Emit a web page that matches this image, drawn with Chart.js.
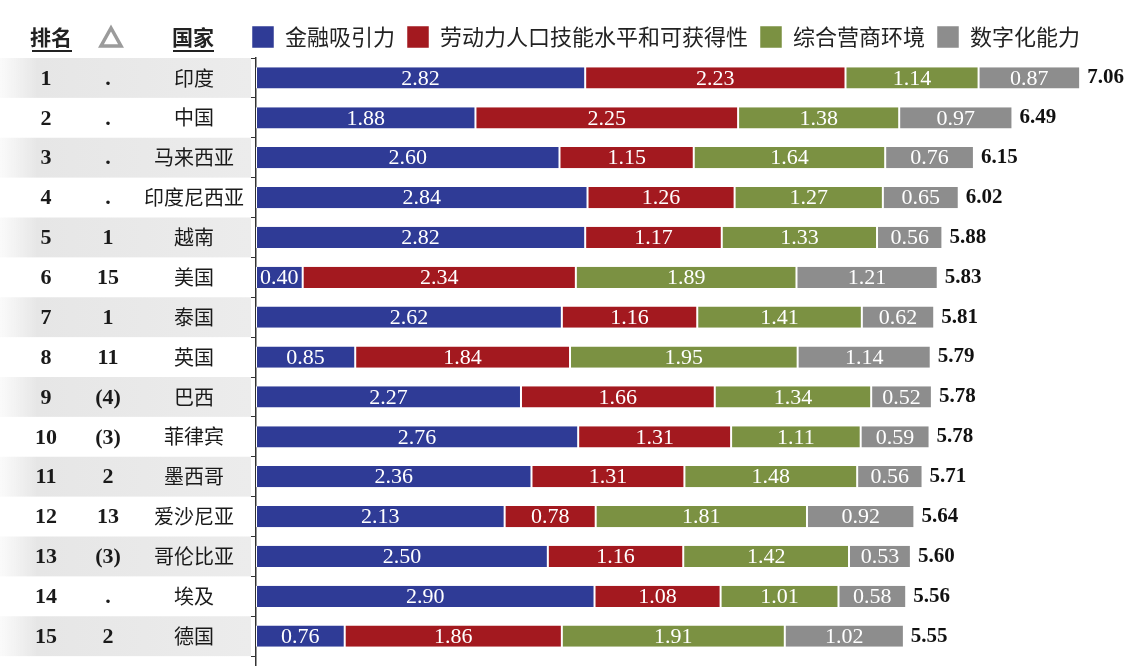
<!DOCTYPE html>
<html>
<head>
<meta charset="utf-8">
<script src="https://cdn.jsdelivr.net/npm/chart.js@4"></script>
<style>
  html, body { margin: 0; padding: 0; overflow: hidden; background: #fff; }
  #wrap { width: 1138px; height: 700px; }
</style>
</head>
<body>
<div id="wrap"><canvas id="rankChart"></canvas></div>
<script>
// data
const countries = ['印度', '中国', '马来西亚', '印度尼西亚', '越南', '美国', '泰国', '英国', '巴西', '菲律宾', '墨西哥', '爱沙尼亚', '哥伦比亚', '埃及', '德国'];
const ranks = ['1', '2', '3', '4', '5', '6', '7', '8', '9', '10', '11', '12', '13', '14', '15'];
const deltas = ['.', '.', '.', '.', '1', '15', '1', '11', '(4)', '(3)', '2', '13', '(3)', '.', '2'];
const seriesNames = ['金融吸引力', '劳动力人口技能水平和可获得性', '综合营商环境', '数字化能力'];
const finance  = [2.82, 1.88, 2.60, 2.84, 2.82, 0.40, 2.62, 0.85, 2.27, 2.76, 2.36, 2.13, 2.50, 2.90, 0.76];
const labour   = [2.23, 2.25, 1.15, 1.26, 1.17, 2.34, 1.16, 1.84, 1.66, 1.31, 1.31, 0.78, 1.16, 1.08, 1.86];
const business = [1.14, 1.38, 1.64, 1.27, 1.33, 1.89, 1.41, 1.95, 1.34, 1.11, 1.48, 1.81, 1.42, 1.01, 1.91];
const digital  = [0.87, 0.97, 0.76, 0.65, 0.56, 1.21, 0.62, 1.14, 0.52, 0.59, 0.56, 0.92, 0.53, 0.58, 1.02];
const totals   = [7.06, 6.49, 6.15, 6.02, 5.88, 5.83, 5.81, 5.79, 5.78, 5.78, 5.71, 5.64, 5.60, 5.56, 5.55];

const colors = ['#2f3b96', '#a3191f', '#7b9142', '#8d8d8d'];
const serif = '"Liberation Serif", "DejaVu Serif", serif';
const cjk = '"Noto Sans CJK SC", "Noto Sans", sans-serif';

// the picture is cut off below row 15, so leave one empty slot
const labels = countries.concat(['']);

// left table, row shading and value labels
const tablePlugin = {
  id: 'tablePlugin',
  beforeDatasetsDraw(chart) {
    const { ctx } = chart;
    const y = chart.scales.y;
    const step = y.getPixelForValue(1) - y.getPixelForValue(0);
    ctx.save();
    countries.forEach((c, i) => {
      if (i % 2 !== 0) return;
      const cy = y.getPixelForValue(i);
      const g = ctx.createLinearGradient(0, 0, 250, 0);
      g.addColorStop(0, 'rgba(232,232,232,0.2)');
      g.addColorStop(0.15, '#e6e6e6');
      g.addColorStop(1, '#ececec');
      ctx.fillStyle = g;
      ctx.fillRect(0, cy - step / 2, 251, step);
    });
    ctx.restore();
  },
  afterDraw(chart) {
    const { ctx } = chart;
    const y = chart.scales.y;
    ctx.save();
    ctx.textBaseline = 'middle';
    ctx.textAlign = 'center';

    // header
    ctx.fillStyle = '#222';
    ctx.font = 'bold 21px ' + cjk;
    ctx.fillText('排名', 51, 37);
    ctx.fillText('国家', 193, 37);
    ctx.fillRect(32, 50, 40, 2);
    ctx.fillRect(173, 50, 41, 2);
    // delta sign in the header
    ctx.strokeStyle = '#9b9b9b';
    ctx.lineWidth = 3.5;
    ctx.lineJoin = 'miter';
    ctx.beginPath();
    ctx.moveTo(111, 28);
    ctx.lineTo(121, 46);
    ctx.lineTo(101, 46);
    ctx.closePath();
    ctx.stroke();

    countries.forEach((c, i) => {
      const cy = y.getPixelForValue(i);
      ctx.fillStyle = '#1a1a1a';
      ctx.font = 'bold 22px ' + serif;
      ctx.fillText(ranks[i], 46, cy + 1);
      ctx.fillText(deltas[i], 108, cy + 1);
      ctx.font = '20px ' + cjk;
      ctx.fillText(c, 194, cy);
    });

    // segment values
    ctx.fillStyle = '#ffffff';
    ctx.font = '22px ' + serif;
    chart.data.datasets.forEach((ds, d) => {
      chart.getDatasetMeta(d).data.forEach((bar, i) => {
        ctx.fillText(ds.data[i].toFixed(2), (bar.x + bar.base) / 2, bar.y + 1);
      });
    });

    // totals
    const last = chart.getDatasetMeta(chart.data.datasets.length - 1).data;
    ctx.fillStyle = '#111';
    ctx.textAlign = 'left';
    ctx.font = 'bold 21px ' + serif;
    last.forEach((bar, i) => {
      ctx.fillText(totals[i].toFixed(2), bar.x + 7, bar.y);
    });
    ctx.restore();
  }
};

const seriesData = [finance, labour, business, digital];

new Chart(document.getElementById('rankChart'), {
  type: 'bar',
  data: {
    labels: labels,
    datasets: seriesNames.map((name, k) => ({
      label: name,
      data: seriesData[k],
      backgroundColor: colors[k],
      borderColor: '#ffffff',
      borderWidth: { left: 1, right: 1, top: 0, bottom: 0 },
      borderSkipped: false,
      barPercentage: 0.53,
      categoryPercentage: 1
    }))
  },
  options: {
    indexAxis: 'y',
    responsive: true,
    maintainAspectRatio: false,
    animation: false,
    layout: { padding: { left: 240, right: 10, top: 14, bottom: 4 } },
    plugins: {
      legend: {
        position: 'top',
        align: 'start',
        labels: {
          boxWidth: 22, boxHeight: 22, padding: 12,
          color: '#222',
          font: { size: 22, family: cjk }
        }
      },
      tooltip: { enabled: false }
    },
    scales: {
      x: { stacked: true, display: false, min: 0, max: 7.47 },
      y: {
        stacked: true,
        afterFit(s) { s.width = 16; },
        ticks: { display: false },
        grid: { drawOnChartArea: false, offset: true, tickLength: 5, color: '#333' },
        border: { color: '#333', width: 1.5 }
      }
    }
  },
  plugins: [tablePlugin]
});
</script>
</body>
</html>
